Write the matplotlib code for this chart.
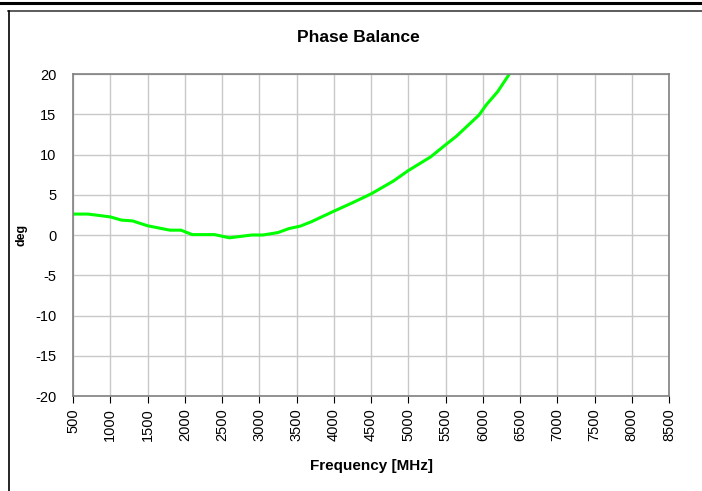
import matplotlib
matplotlib.use("Agg")
import matplotlib.pyplot as plt
from matplotlib.lines import Line2D

plt.rcParams['font.family'] = ['Liberation Sans', 'DejaVu Sans']

freq_mhz = [500, 700, 1000, 1150, 1300, 1500, 1800, 1950, 2100, 2400, 2600, 2900, 3050,
            3250, 3400, 3550, 3700, 4000, 4250, 4500, 4800, 5000, 5300, 5500, 5650,
            5950, 6050, 6200, 6400]
phase_deg = [2.6, 2.6, 2.25, 1.85, 1.75, 1.15, 0.6, 0.6, 0.05, 0.05, -0.35, 0.0, 0.0,
             0.3, 0.8, 1.1, 1.65, 2.95, 4.0, 5.1, 6.7, 8.0, 9.7, 11.2, 12.3,
             14.9, 16.2, 17.8, 20.6]
x_ticks = list(range(500, 8501, 500))
y_ticks = list(range(-20, 21, 5))

fig = plt.figure(figsize=(7.02, 4.91), dpi=100)
ax = fig.add_axes([73/702, 1-396/491, (669-73)/702, (396-74)/491])

ax.plot(freq_mhz, phase_deg, color='#00FF00', lw=2.2, solid_joinstyle='round')
ax.set_xlim(500, 8500)
ax.set_ylim(-20, 20)
ax.set_xticks(x_ticks)
ax.set_yticks(y_ticks)
ax.set_xticklabels([str(t) for t in x_ticks], rotation=90, fontsize=10.5)
ax.set_yticklabels([str(t) for t in y_ticks], fontsize=10.5)
ax.grid(True, color='#c8c8c8', lw=1.0)
ax.set_axisbelow(True)
for s in ax.spines.values():
    s.set_color('#808080')
    s.set_linewidth(1.2)
ax.tick_params(axis='x', direction='out', length=5, color='#000000', width=0.8, pad=4)
ax.tick_params(axis='y', length=0, pad=12)

fig.text(358/702, 1-38/491, 'Phase Balance', fontsize=12.5, fontweight='bold',
         ha='center', va='center')
ax.set_xlabel('Frequency [MHz]', fontsize=11, fontweight='bold')
ax.xaxis.set_label_coords(0.5, (396-459)/322)
ax.set_ylabel('deg', fontsize=9, fontweight='bold', va='center')
ax.yaxis.set_label_coords((22-73)/596, 0.5)

# frame decorations
fig.add_artist(Line2D([0, 1], [1-2.5/491, 1-2.5/491], transform=fig.transFigure, color='black', lw=2.2))
fig.add_artist(Line2D([8/702, 1], [1-10.8/491, 1-10.8/491], transform=fig.transFigure, color='#404040', lw=1.2))
fig.add_artist(Line2D([8.5/702, 8.5/702], [0, 1-10.8/491], transform=fig.transFigure, color='black', lw=1.2))

fig.savefig('out.png', dpi=100)
